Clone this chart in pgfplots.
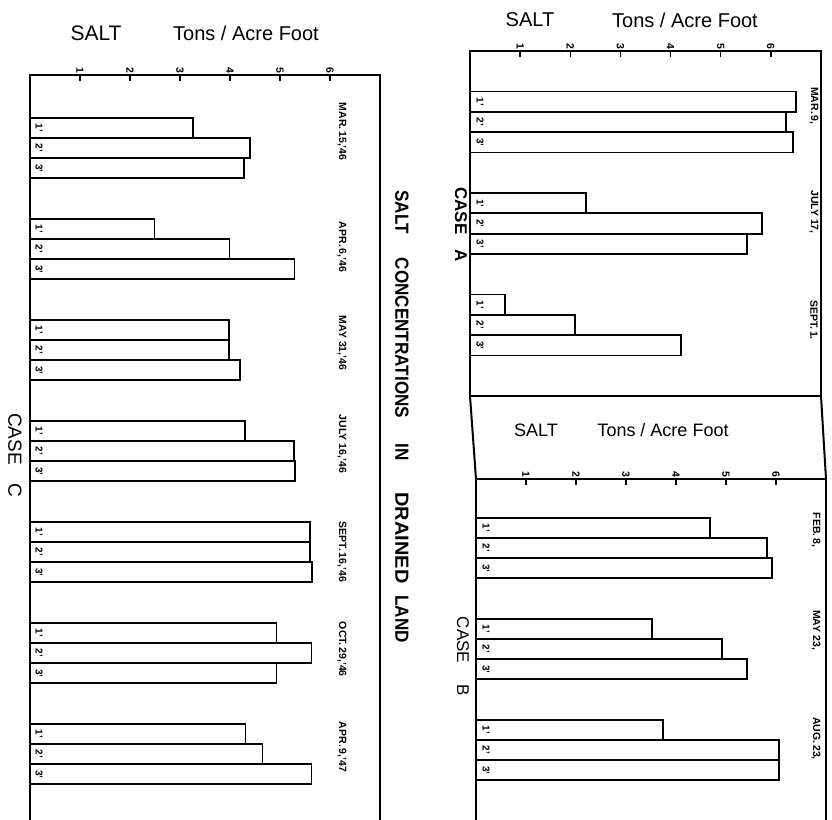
\documentclass[border=0pt]{standalone}
\usepackage{fontspec}
\setmainfont{Liberation Sans}
\usepackage{graphicx}
\usepackage{pgfplots}
\pgfplotsset{compat=1.18}

\pgfplotsset{
  saltaxis/.style={
    scale only axis, anchor=north west,
    xmin=0, xmax=7, y dir=reverse,
    enlargelimits=false,
    xtick={1,2,3,4,5,6}, ytick=\empty,
    xtick pos=right, xticklabel pos=right,
    tick align=inside, major tick length=6pt,
    every tick/.append style={line width=1.4pt, black},
    axis line style={line width=2pt},
    /pgf/number format/assume math mode=true,
    xticklabel style={rotate=-90, anchor=east, inner sep=1.5pt, font=\bfseries\fontsize{10.5}{10.5}\selectfont},
    bar width=0.2,
    clip=false,
  },
  saltbar/.style={xbar, fill=white, draw=black, line width=1.8pt},
}
\tikzset{
  datelbl/.style={rotate=-90, anchor=west, inner sep=0pt, font=\bfseries\fontsize{10.5}{10.5}\selectfont},
  barlbl/.style={rotate=-90, inner sep=0pt, font=\bfseries\fontsize{10}{10}\selectfont},
}

\begin{document}
\begin{tikzpicture}
\useasboundingbox (0,0) rectangle (832pt,-819pt);
\clip (0,0) rectangle (832pt,-819pt);

% ---------------- CASE C ----------------
\begin{axis}[saltaxis, at={(30pt,-75pt)}, width=350pt, height=805pt, ymin=-0.7228, ymax=7.2475]
\addplot[saltbar, bar shift=-0.2] coordinates {(3.26,0) (2.49,1) (3.98,2) (4.30,3) (5.60,4) (4.93,5) (4.31,6)};
\addplot[saltbar, bar shift=0] coordinates {(4.40,0) (3.99,1) (3.98,2) (5.28,3) (5.60,4) (5.63,5) (4.65,6)};
\addplot[saltbar, bar shift=0.2] coordinates {(4.28,0) (5.29,1) (4.20,2) (5.30,3) (5.64,4) (4.93,5) (5.63,6)};
\pgfplotsinvokeforeach{0,1,2,3,4,5,6}{
  \node[barlbl] at (axis cs:0.18,#1-0.2) {1'};
  \node[barlbl] at (axis cs:0.18,#1) {2'};
  \node[barlbl] at (axis cs:0.18,#1+0.2) {3'};
}
\node[datelbl] at (axis cs:6.24,-0.45) {MAR.\,15,'46};
\node[datelbl] at (axis cs:6.24,0.73) {APR.\,6,'46};
\node[datelbl] at (axis cs:6.24,1.66) {MAY 31,'46};
\node[datelbl] at (axis cs:6.24,2.64) {JULY 16,'46};
\node[datelbl] at (axis cs:6.24,3.70) {SEPT.\,16,'46};
\node[datelbl] at (axis cs:6.24,4.69) {OCT.\,29,'46};
\node[datelbl] at (axis cs:6.24,5.68) {APR.\,9,'47};
\end{axis}

% ---------------- CASE A ----------------
\begin{axis}[saltaxis, at={(470pt,-51pt)}, width=351pt, height=345pt, ymin=-0.6995, ymax=2.6995]
\addplot[saltbar, bar shift=-0.2] coordinates {(6.50,0) (2.32,1) (0.70,2)};
\addplot[saltbar, bar shift=0] coordinates {(6.30,0) (5.82,1) (2.10,2)};
\addplot[saltbar, bar shift=0.2] coordinates {(6.44,0) (5.52,1) (4.20,2)};
\pgfplotsinvokeforeach{0,1,2}{
  \node[barlbl] at (axis cs:0.2,#1-0.2) {1'};
  \node[barlbl] at (axis cs:0.2,#1) {2'};
  \node[barlbl] at (axis cs:0.2,#1+0.2) {3'};
}
\node[datelbl] at (axis cs:6.86,-0.345) {MAR.\,9,};
\node[datelbl] at (axis cs:6.86,0.67) {JULY 17,};
\node[datelbl] at (axis cs:6.86,1.754) {SEPT.\,1.};
\end{axis}

% ---------------- CASE B ----------------
\begin{axis}[saltaxis, at={(476pt,-479pt)}, width=350pt, height=401pt, ymin=-0.683, ymax=3.287]
\addplot[saltbar, bar shift=-0.2] coordinates {(4.68,0) (3.52,1) (3.74,2)};
\addplot[saltbar, bar shift=0] coordinates {(5.82,0) (4.92,1) (6.06,2)};
\addplot[saltbar, bar shift=0.2] coordinates {(5.92,0) (5.42,1) (6.06,2)};
\pgfplotsinvokeforeach{0,1,2}{
  \node[barlbl] at (axis cs:0.2,#1-0.2) {1'};
  \node[barlbl] at (axis cs:0.2,#1) {2'};
  \node[barlbl] at (axis cs:0.2,#1+0.2) {3'};
}
\node[datelbl] at (axis cs:6.8,-0.35) {FEB.\,8,};
\node[datelbl] at (axis cs:6.8,0.614) {MAY 23,};
\node[datelbl] at (axis cs:6.8,1.673) {AUG.\,23,};
\end{axis}

% connecting borders of the right-hand frame
\draw[line width=2pt] (470pt,-396pt) -- (476pt,-479pt);
\draw[line width=2pt] (821pt,-396pt) -- (826pt,-479pt);

% axis titles
\node[font=\fontsize{21}{21}\selectfont] at (96pt,-33pt) {SALT};
\node[font=\fontsize{20}{20}\selectfont] at (246pt,-33pt) {Tons / Acre Foot};
\node[font=\fontsize{20}{20}\selectfont] at (530pt,-20pt) {SALT};
\node[font=\fontsize{20}{20}\selectfont] at (685pt,-20pt) {Tons / Acre Foot};
\node[font=\fontsize{18}{18}\selectfont] at (536pt,-430pt) {SALT};
\node[font=\fontsize{18}{18}\selectfont] at (663pt,-430pt) {Tons / Acre Foot};

% main title
\begin{scope}[every node/.style={rotate=-90, font=\bfseries\fontsize{19}{19}\selectfont}]
\node at (402pt,-212pt) {\scalebox{0.9}[1]{SALT}};
\node at (402pt,-338pt) {\scalebox{0.9}[1]{CONCENTRATIONS}};
\node at (402pt,-452pt) {\scalebox{0.9}[1]{IN}};
\node at (402pt,-538pt) {\scalebox{1.05}[1]{DRAINED}};
\node at (402pt,-619pt) {\scalebox{0.9}[1]{LAND}};
\end{scope}

% case labels
\node[rotate=-90, font=\bfseries\fontsize{17}{17}\selectfont] at (461pt,-211pt) {CASE};
\node[rotate=-90, font=\bfseries\fontsize{17}{17}\selectfont] at (461pt,-256pt) {A};
\node[rotate=-90, font=\fontsize{17}{17}\selectfont] at (463pt,-640pt) {CASE};
\node[rotate=-90, font=\fontsize{17}{17}\selectfont] at (463pt,-690pt) {B};
\node[rotate=-90, font=\fontsize{19}{19}\selectfont] at (15pt,-439pt) {CASE};
\node[rotate=-90, font=\fontsize{19}{19}\selectfont] at (15pt,-490pt) {C};
\end{tikzpicture}
\end{document}
